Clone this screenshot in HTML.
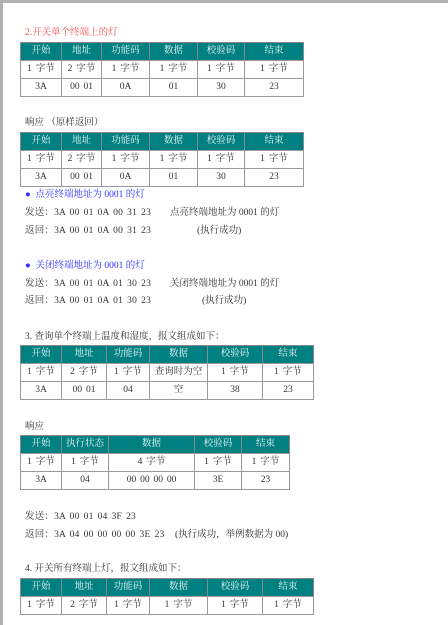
<!DOCTYPE html>
<html><head><meta charset="utf-8"><style>
html,body{margin:0;padding:0;}
body{width:448px;height:625px;background:#fff;position:relative;overflow:hidden;font-family:"Liberation Serif","Noto Serif CJK SC",serif;font-size:9.5px;color:#333;}
.t{position:absolute;white-space:pre;line-height:12px;}
.m{word-spacing:1.5px;letter-spacing:0.2px;}
.c{position:absolute;box-sizing:border-box;border:1px solid #999;text-align:center;font-size:9.5px;}
.h{background:#008080;color:#e8f4f4;border-color:#888;}
</style></head><body>
<div style="position:absolute;left:0;top:0;width:448px;height:3px;background:#b0b0b0"></div>
<div style="position:absolute;left:0;top:0;width:3px;height:625px;background:#b0b0b0"></div>

<div class="t" style="left:25px;top:27px;color:#f05050">2.开关单个终端上的灯</div>
<div id="tbl1"></div>
<div class="t" style="left:25px;top:117px">响应 （原样返回）</div>
<div id="tbl2"></div>

<div class="t" style="left:25px;top:189px;color:#3030ff">●  点亮终端地址为 0001 的灯</div>
<div class="t m" style="left:25px;top:207px">发送：3A 00 01 0A 00 31 23</div>
<div class="t" style="left:170px;top:207px">点亮终端地址为 0001 的灯</div>
<div class="t m" style="left:25px;top:225px">返回：3A 00 01 0A 00 31 23</div>
<div class="t" style="left:197px;top:225px">(执行成功)</div>

<div class="t" style="left:25px;top:260px;color:#3030ff">●  关闭终端地址为 0001 的灯</div>
<div class="t m" style="left:25px;top:278px">发送：3A 00 01 0A 01 30 23</div>
<div class="t" style="left:170px;top:278px">关闭终端地址为 0001 的灯</div>
<div class="t m" style="left:25px;top:295px">返回：3A 00 01 0A 01 30 23</div>
<div class="t" style="left:202px;top:295px">(执行成功)</div>

<div class="t" style="left:25px;top:331px">3. 查询单个终端上温度和湿度，报文组成如下：</div>
<div id="tbl3"></div>
<div class="t" style="left:25px;top:421px">响应</div>
<div id="tbl4"></div>
<div class="t m" style="left:25px;top:511px">发送：3A 00 01 04 3F 23</div>
<div class="t m" style="left:25px;top:529px">返回：3A 04 00 00 00 00 3E 23</div>
<div class="t" style="left:175px;top:529px">(执行成功，举例数据为 00)</div>

<div class="t" style="left:25px;top:563px">4. 开关所有终端上灯，报文组成如下：</div>
<div id="tbl5"></div>

<script>
function build(id, top, cols, rowsH, rows){
  var host=document.getElementById(id);
  var y=top;
  rows.forEach(function(r,ri){
    for(var i=0;i<r.length;i++){
      var d=document.createElement('div');
      
      
      d.className='c'+(ri===0?' h':'');
      d.style.left=cols[i]+'px';d.style.top=y+'px';
      d.style.width=(cols[i+1]-cols[i]+1)+'px';d.style.height=(rowsH[ri]+1)+'px';
      d.style.lineHeight=(rowsH[ri]-1)+'px';
      d.style.wordSpacing='1.5px';
      d.textContent=r[i];
      host.appendChild(d);
    }
    y+=rowsH[ri];
  });
}
var H=['开始','地址','功能码','数据','校验码','结束'];
var B=['1 字节','2 字节','1 字节','1 字节','1 字节','1 字节'];
var c1=[20,61,101,149,197,244,303];
build('tbl1',42,c1,[18,18,18],[H,B,['3A','00 01','0A','01','30','23']]);
build('tbl2',132,c1,[18,18,18],[H,B,['3A','00 01','0A','01','30','23']]);
var c3=[20,61,106,149,207,262,313];
build('tbl3',345,c3,[18,18,18],[H,['1 字节','2 字节','1 字节','查询时为空','1 字节','1 字节'],['3A','00 01','04','空','38','23']]);
var c4=[20,61,108,194,241,289];
build('tbl4',435,c4,[18,18,18],[['开始','执行状态','数据','校验码','结束'],['1 字节','1 字节','4 字节','1 字节','1 字节'],['3A','04','00 00 00 00','3E','23']]);
build('tbl5',578,c3,[18,18],[H,B]);
</script>
</body></html>
